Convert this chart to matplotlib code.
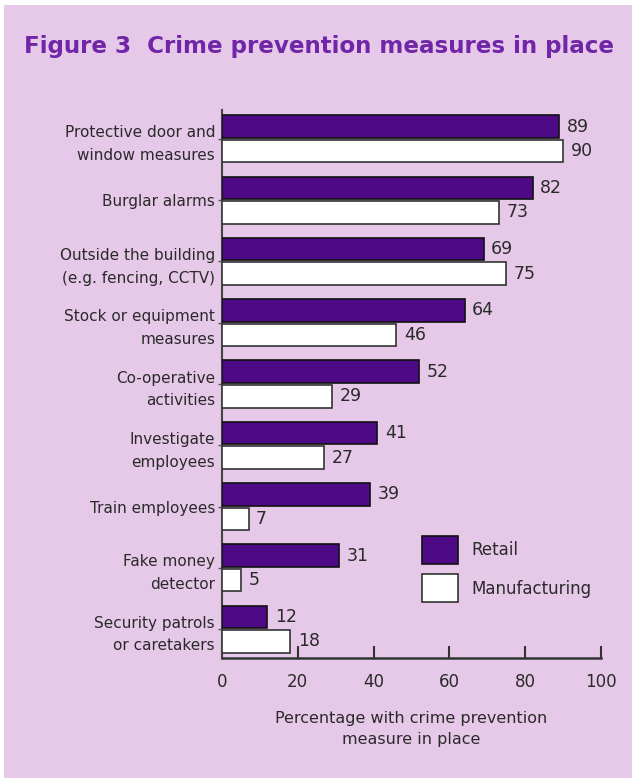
import matplotlib
matplotlib.use("Agg")
import matplotlib.pyplot as plt
from matplotlib.patches import Rectangle
import numpy as np

categories = [
    "Protective door and\nwindow measures",
    "Burglar alarms",
    "Outside the building\n(e.g. fencing, CCTV)",
    "Stock or equipment\nmeasures",
    "Co-operative\nactivities",
    "Investigate\nemployees",
    "Train employees",
    "Fake money\ndetector",
    "Security patrols\nor caretakers",
]
retail = [89, 82, 69, 64, 52, 41, 39, 31, 12]
manufacturing = [90, 73, 75, 46, 29, 27, 7, 5, 18]
x_ticks = [0, 20, 40, 60, 80, 100]

BG = "#e6c8e8"
RETAIL_COLOR = "#4e0a86"
TEXT = "#2a2a2a"
TITLE_COLOR = "#7026a6"

W, H = 632, 778
fig = plt.figure(figsize=(W / 100, H / 100), dpi=100)
fig.patch.set_facecolor("white")
fig.patches.append(Rectangle((4 / W, 0), 1 - 4 / W, 1 - 5 / H, transform=fig.transFigure,
                             facecolor=BG, edgecolor="none", zorder=-10))

fig.text(24 / W, 1 - 47 / H, "Figure 3  Crime prevention measures in place",
         color=TITLE_COLOR, fontsize=16.6, fontweight="bold", va="center", ha="left",
         family="DejaVu Sans")

ax = fig.add_axes([222 / W, 1 - 658 / H, (601 - 222) / W, (658 - 110) / H])
ax.set_facecolor("none")

y = np.arange(len(categories))
h = 0.37
ax.barh(y - 0.2, retail, height=h, color=RETAIL_COLOR, edgecolor="#111111", linewidth=1.2,
        label="Retail", zorder=3)
ax.barh(y + 0.2, manufacturing, height=h, color="white", edgecolor="#333333", linewidth=1.2,
        label="Manufacturing", zorder=3)

for yi, v in zip(y, retail):
    ax.text(v + 2, yi - 0.2, str(v), va="center", ha="left", fontsize=12.5, color=TEXT)
for yi, v in zip(y, manufacturing):
    ax.text(v + 2, yi + 0.2, str(v), va="center", ha="left", fontsize=12.5, color=TEXT)

ax.set_xlim(0, 100)
ax.set_ylim(len(categories) - 1 + 0.47, -0.47)
ax.set_xticks(x_ticks)
ax.set_xticklabels([str(t) for t in x_ticks], fontsize=12, color=TEXT)
ax.tick_params(axis="x", direction="in", length=9, width=1.5, color="#333333", pad=11)
ax.set_yticks(y)
ax.set_yticklabels(categories, fontsize=11, color=TEXT, linespacing=1.65)
ax.tick_params(axis="y", length=3, width=1, color="#555555", pad=2)

for s in ["top", "right"]:
    ax.spines[s].set_visible(False)
ax.spines["left"].set_color("#444444")
ax.spines["left"].set_linewidth(1.5)
ax.spines["bottom"].set_color("#333333")
ax.spines["bottom"].set_linewidth(1.8)

ax.set_xlabel("Percentage with crime prevention\nmeasure in place", fontsize=11.5,
              color=TEXT, labelpad=14, linespacing=1.5)

leg = ax.legend(loc="upper left", bbox_to_anchor=((415 - 222) / (601 - 222), (658 - 529) / (658 - 110)),
                frameon=False, fontsize=12, handlelength=2.2, handleheight=2.2,
                labelspacing=0.65, handletextpad=0.8, borderaxespad=0)
for t in leg.get_texts():
    t.set_color(TEXT)

fig.savefig("out.png", dpi=100, facecolor=fig.get_facecolor())
